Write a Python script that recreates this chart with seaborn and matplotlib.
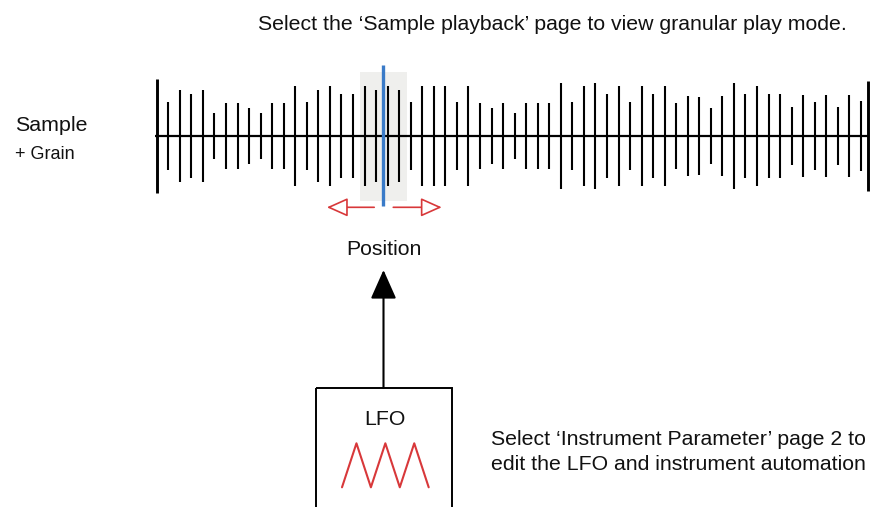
import numpy as np
import pandas as pd
import matplotlib.pyplot as plt
import seaborn as sns
from matplotlib.patches import Rectangle, FancyArrowPatch

# grain amplitudes along the sample (half-height of each grain tick)
grain_amps = [57, 34, 46, 42, 46, 23, 33, 33, 28, 23, 33, 33, 50, 34, 46, 50, 42, 42, 50, 46, 50,
              46, 34, 50, 50, 50, 34, 50, 33, 28, 33, 23, 33, 33, 33, 53, 34, 50, 53, 42, 50, 34,
              50, 42, 50, 33, 40, 39, 28, 40, 53, 42, 50, 42, 42, 29, 41, 34, 41, 29, 41, 35]
end_amp = 55
play_pos = 19.64
grain_window = 2.03
lfo_shape = [0, 1, 0, 1, 0, 1, 0]

title_txt = "Select the \u2018Sample playback\u2019 page to view granular play mode."
note_lines = ["Select \u2018Instrument Parameter\u2019 page 2 to",
              "edit the LFO and instrument automation"]

W, H = 878, 507
RED = '#d8383a'
BLUE = '#3a7bc8'


def fig_rect(x0, y0, x1, y1):
    # pixel box (top-left origin) -> figure fraction rect
    return [x0 / W, 1 - y1 / H, (x1 - x0) / W, (y1 - y0) / H]


def main():
    sns.set_theme(style="white")
    plt.rcParams['font.family'] = ['Liberation Sans', 'DejaVu Sans']

    fig = plt.figure(figsize=(W / 100, H / 100), dpi=100)

    # overlay axes in pixel coordinates for the annotations
    ov = fig.add_axes([0, 0, 1, 1])
    ov.set_xlim(0, W)
    ov.set_ylim(H, 0)
    ov.set_axis_off()

    # waveform axes: x = grain index, y = amplitude
    step = 11.545
    x0 = 156.7
    ax = fig.add_axes(fig_rect(x0 - step, 61, x0 + 62 * step, 211))
    ax.set_xlim(-1, 62)
    ax.set_ylim(-75, 75)
    ax.set_axis_off()

    df = pd.DataFrame({'idx': np.arange(len(grain_amps)), 'amp': grain_amps})
    end_x = len(grain_amps) - 1 + 0.6

    ax.add_patch(Rectangle((play_pos - grain_window, -64.5), 2 * grain_window, 129,
                           facecolor='#efefed', edgecolor='none', zorder=0))
    ax.vlines(df['idx'][1:], -df['amp'][1:], df['amp'][1:], color='black', lw=1.5, zorder=2)
    ax.vlines([0, end_x], [-grain_amps[0], -end_amp], [grain_amps[0], end_amp],
              color='black', lw=2.1, zorder=2)
    ax.hlines(0, -0.15, end_x, color='black', lw=1.6, zorder=2)
    ax.vlines(play_pos, -70, 71, color=BLUE, lw=2.4, zorder=3)

    for start, end in [(play_pos - 0.8, play_pos - 4.9), (play_pos + 0.85, play_pos + 5.05)]:
        ax.add_patch(FancyArrowPatch((start, -71.3), (end, -71.3),
                                     arrowstyle='-|>,head_length=13,head_width=5.8',
                                     mutation_scale=1, lw=1.2, edgecolor=RED, facecolor='white',
                                     shrinkA=0, shrinkB=0, clip_on=False, zorder=3))

    # texts
    tc = '#111111'
    ov.text(258, 30, title_txt, fontsize=15.3, va='baseline', ha='left', color=tc)
    ov.text(15, 131, "Sample", fontsize=15.4, va='baseline', ha='left', color=tc)
    ov.text(15, 159, "+ Grain", fontsize=13, va='baseline', ha='left', color=tc)
    ov.text(383.5, 255, "Position", fontsize=15.3, va='baseline', ha='center', color=tc)
    ov.text(384.5, 425, "LFO", fontsize=15.3, va='baseline', ha='center', color=tc)
    for i, line in enumerate(note_lines):
        ov.text(491, 445 + i * 24.5, line, fontsize=15.3, va='baseline', ha='left', color=tc)

    # LFO box and modulation arrow
    ov.add_patch(Rectangle((316.5, 388), 136, 140, facecolor='none', edgecolor='black', lw=1.4))
    ov.add_patch(FancyArrowPatch((383.5, 388), (383.5, 270),
                                 arrowstyle='-|>,head_length=18,head_width=8',
                                 mutation_scale=1, lw=1.5, color='black',
                                 shrinkA=0, shrinkB=0))

    # LFO triangle wave
    lfo_ax = fig.add_axes(fig_rect(342, 443.3, 428.7, 487.3))
    lfo_df = pd.DataFrame({'t': np.arange(len(lfo_shape)), 'v': lfo_shape})
    sns.lineplot(data=lfo_df, x='t', y='v', ax=lfo_ax, color=RED, lw=1.5)
    for ln in lfo_ax.lines:
        ln.set_clip_on(False)
    lfo_ax.set_xlim(0, len(lfo_shape) - 1)
    lfo_ax.set_ylim(0, 1)
    lfo_ax.set_axis_off()

    fig.savefig("out.png", dpi=100)


if __name__ == "__main__":
    main()
